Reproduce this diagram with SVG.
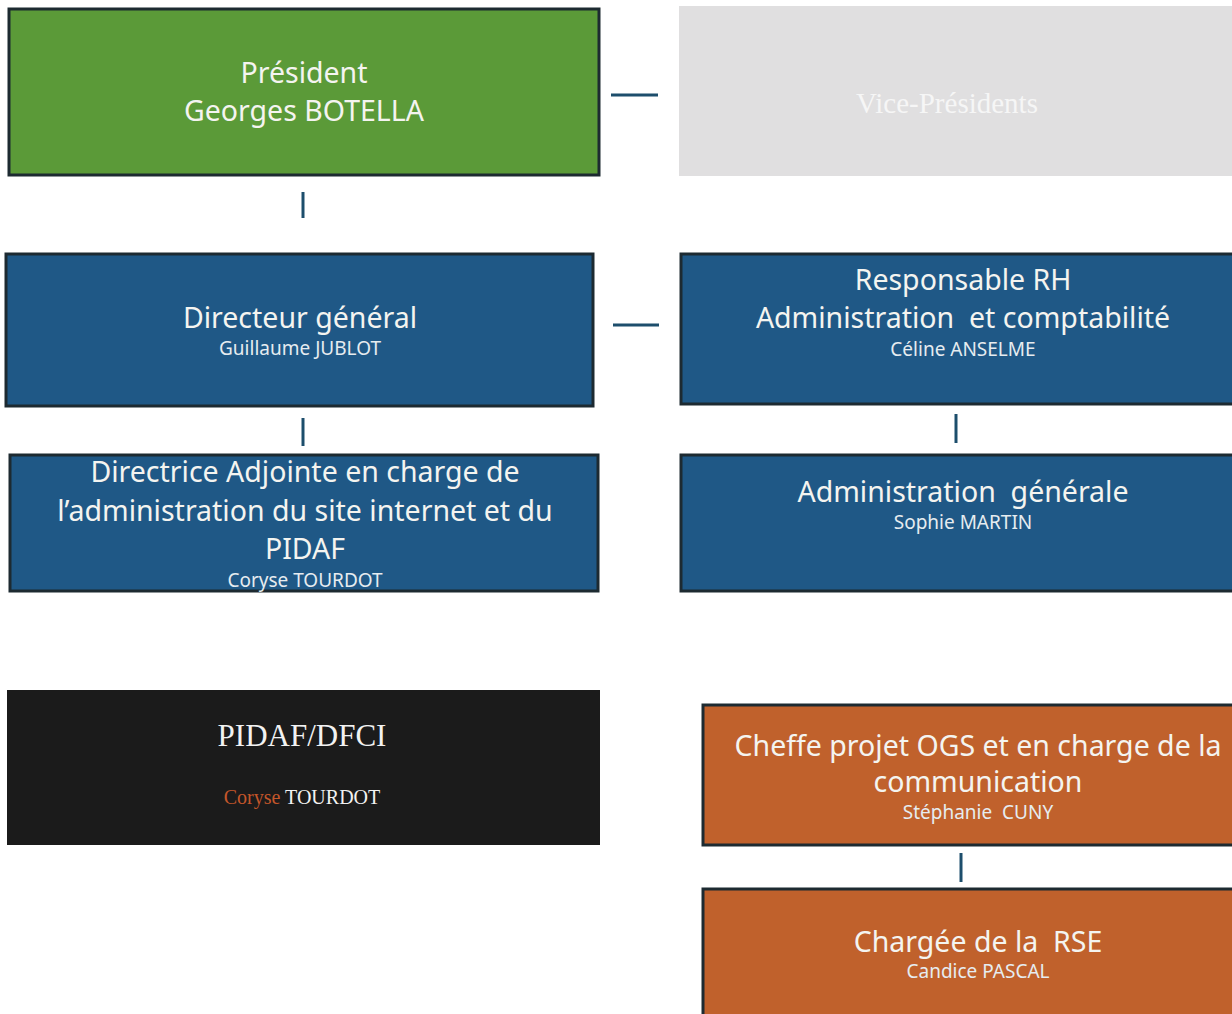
<svg xmlns="http://www.w3.org/2000/svg" width="1232" height="1014" viewBox="0 0 1232 1014">
<style>
.box{stroke:#1d2a31;stroke-width:3}
.green{fill:#5b9a38}
.blue{fill:#1f5886}
.orange{fill:#c0612c}
.t{font-family:"Noto Sans","Liberation Sans",sans-serif;fill:#f4f4f0;text-anchor:middle}
.big{font-size:28.5px}
.sm{font-size:19px;fill:#e6ecf0}
.serif{font-family:"Liberation Serif","DejaVu Serif",serif;text-anchor:middle}
.conn{stroke:#1d4e6c;stroke-width:3;fill:none}
</style>
<rect width="1232" height="1014" fill="#ffffff"/>
<g id="connectors">
<line class="conn" x1="611" y1="95" x2="658" y2="95"/>
<line class="conn" x1="303" y1="192" x2="303" y2="218"/>
<line class="conn" x1="613" y1="325" x2="659" y2="325"/>
<line class="conn" x1="303" y1="418" x2="303" y2="446"/>
<line class="conn" x1="956" y1="414" x2="956" y2="443"/>
<line class="conn" x1="961" y1="853" x2="961" y2="882"/>
</g>
<g id="president">
<rect class="box green" x="9" y="9" width="590" height="166"/>
<text class="t big" x="304" y="83">Président</text>
<text class="t big" x="304" y="121">Georges BOTELLA</text>
</g>
<g id="vice-presidents">
<rect x="679" y="6" width="553" height="170" fill="#e0dfe0"/>
<text class="serif" x="947" y="113" font-size="29" fill="#f6f6f6">Vice-Présidents</text>
</g>
<g id="directeur">
<rect class="box blue" x="6" y="254" width="587" height="152"/>
<text class="t big" x="300" y="328">Directeur général</text>
<text class="t sm" x="300" y="355">Guillaume JUBLOT</text>
</g>
<g id="responsable-rh">
<rect class="box blue" x="681" y="254" width="553" height="150"/>
<text class="t big" x="963" y="290">Responsable RH</text>
<text class="t big" x="963" y="328" xml:space="preserve">Administration  et comptabilité</text>
<text class="t sm" x="963" y="356">Céline ANSELME</text>
</g>
<g id="directrice-adjointe">
<rect class="box blue" x="10" y="455" width="588" height="136"/>
<text class="t big" x="305" y="482">Directrice Adjointe en charge de</text>
<text class="t big" x="305" y="521">l’administration du site internet et du</text>
<text class="t big" x="305" y="559">PIDAF</text>
<text class="t sm" x="305" y="587">Coryse TOURDOT</text>
</g>
<g id="administration-generale">
<rect class="box blue" x="681" y="455" width="553" height="136"/>
<text class="t big" x="963" y="502" xml:space="preserve">Administration  générale</text>
<text class="t sm" x="963" y="529">Sophie MARTIN</text>
</g>
<g id="pidaf-dfci">
<rect x="7" y="690" width="593" height="155" fill="#1b1b1b"/>
<text class="serif" x="302" y="746" font-size="31" fill="#f2f2f2">PIDAF/DFCI</text>
<text class="serif" x="302" y="804" font-size="20" fill="#f2f2f2"><tspan fill="#c4562a">Coryse</tspan> TOURDOT</text>
</g>
<g id="cheffe-projet">
<rect class="box orange" x="703" y="705" width="531" height="140"/>
<text class="t big" x="978" y="756">Cheffe projet OGS et en charge de la</text>
<text class="t big" x="978" y="792">communication</text>
<text class="t sm" x="978" y="819" fill="#f6e6da" xml:space="preserve">Stéphanie  CUNY</text>
</g>
<g id="chargee-rse">
<rect class="box orange" x="703" y="889" width="531" height="130"/>
<text class="t big" x="978" y="952" xml:space="preserve">Chargée de la  RSE</text>
<text class="t sm" x="978" y="978" fill="#f6e6da">Candice PASCAL</text>
</g>
</svg>
